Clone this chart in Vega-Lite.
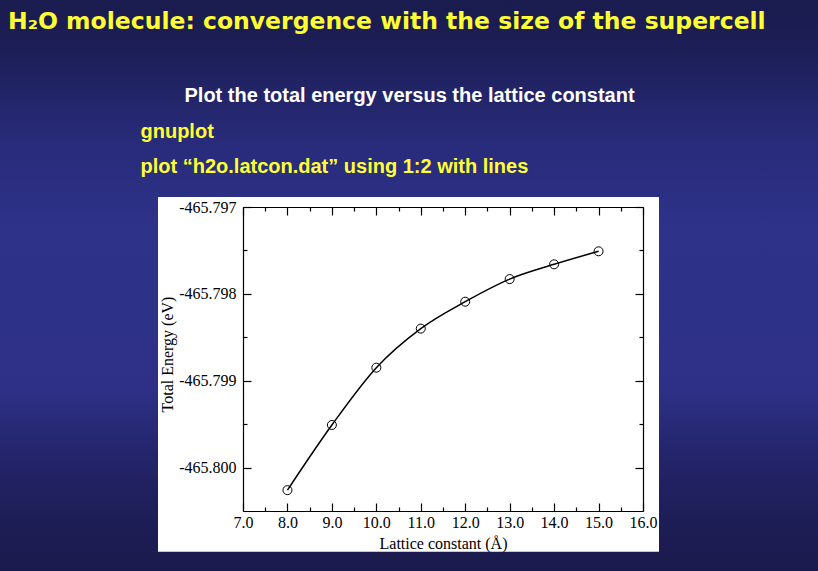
{
  "$schema": "https://vega.github.io/schema/vega-lite/v6.json",
  "width": 400,
  "height": 304,
  "autosize": {"type": "none"},
  "padding": {"left": 243, "top": 207, "right": 175, "bottom": 60},
  "background": "#1a1b4e",
  "title": {
    "text": "H₂O molecule: convergence with the size of the supercell",
    "anchor": "start",
    "frame": "group",
    "font": "DejaVu Sans",
    "fontSize": 23.5,
    "fontWeight": "bold",
    "color": "#ffff33",
    "baseline": "alphabetic",
    "offset": 0,
    "dx": -235,
    "dy": 53,
    "zindex": 2
  },
  "config": {
    "view": {"stroke": null},
    "axis": {
      "grid": false,
      "domainColor": "black",
      "domainWidth": 1.2,
      "tickColor": "black",
      "tickWidth": 1.2,
      "labelFont": "Liberation Serif",
      "labelFontSize": 16,
      "labelColor": "black",
      "labelFlush": false,
      "labelOverlap": false,
      "titleFont": "Liberation Serif",
      "titleFontSize": 16,
      "titleFontWeight": "normal",
      "titleColor": "black"
    }
  },
  "data": {
    "values": [
      {"lattice": 8, "energy": -465.80026},
      {"lattice": 9, "energy": -465.79951},
      {"lattice": 10, "energy": -465.79885},
      {"lattice": 11, "energy": -465.7984},
      {"lattice": 12, "energy": -465.79809},
      {"lattice": 13, "energy": -465.79783},
      {"lattice": 14, "energy": -465.79766},
      {"lattice": 15, "energy": -465.79751}
    ]
  },
  "layer": [
    {
      "data": {"values": [{}]},
      "mark": {
        "type": "rect",
        "fill": {
          "gradient": "linear",
          "x1": 0, "y1": 0, "x2": 0, "y2": 1,
          "stops": [
            {"offset": 0, "color": "#1a1b4e"},
            {"offset": 0.08, "color": "#1c1e55"},
            {"offset": 0.25, "color": "#282b7a"},
            {"offset": 0.4, "color": "#2e3289"},
            {"offset": 0.68, "color": "#2d3086"},
            {"offset": 0.8, "color": "#24246a"},
            {"offset": 0.9, "color": "#1e1e58"},
            {"offset": 1, "color": "#1a1a4c"}
          ]
        }
      },
      "encoding": {
        "x": {"datum": 1.53, "type": "quantitative", "scale": {"domain": [7, 16], "nice": false, "zero": false}, "axis": null},
        "x2": {"datum": 19.94},
        "y": {"datum": -465.79461, "type": "quantitative", "scale": {"domain": [-465.8005, -465.797], "nice": false, "zero": false}, "axis": null},
        "y2": {"datum": -465.8012}
      }
    },
    {
      "data": {"values": [{}]},
      "mark": {"type": "rect", "fill": "white"},
      "encoding": {
        "x": {"datum": 5.0875, "type": "quantitative", "scale": {"domain": [7, 16], "nice": false, "zero": false}, "axis": null},
        "x2": {"datum": 16.36},
        "y": {"datum": -465.796885, "type": "quantitative", "scale": {"domain": [-465.8005, -465.797], "nice": false, "zero": false}, "axis": null},
        "y2": {"datum": -465.80097}
      }
    },
    {
      "mark": {"type": "line", "interpolate": "monotone", "color": "black", "strokeWidth": 1.5},
      "encoding": {
        "x": {
          "field": "lattice", "type": "quantitative",
          "scale": {"domain": [7, 16], "nice": false, "zero": false},
          "axis": {
            "orient": "bottom",
            "zindex": 1,
            "values": [7, 7.5, 8, 8.5, 9, 9.5, 10, 10.5, 11, 11.5, 12, 12.5, 13, 13.5, 14, 14.5, 15, 15.5, 16],
            "labelExpr": "datum.value % 1 === 0 ? format(datum.value, '.1f') : ''",
            "tickSize": {"condition": {"test": "datum.value % 1 === 0", "value": -8}, "value": -4},
            "labelPadding": 11,
            "title": "Lattice constant (Å)",
            "titleX": 200,
            "titleY": 37,
            "titleAlign": "center",
            "titleBaseline": "alphabetic"
          }
        },
        "y": {
          "field": "energy", "type": "quantitative",
          "scale": {"domain": [-465.8005, -465.797], "nice": false, "zero": false},
          "axis": {
            "orient": "left",
            "zindex": 1,
            "values": [-465.797, -465.7975, -465.798, -465.7985, -465.799, -465.7995, -465.8],
            "labelExpr": "abs(datum.value*1000 - round(datum.value*1000)) < 0.01 ? '-' + format(abs(datum.value), '.3f') : ''",
            "tickSize": {"condition": {"test": "abs(datum.value*1000 - round(datum.value*1000)) < 0.01", "value": -8}, "value": -4},
            "labelPadding": 15,
            "title": "Total Energy (eV)",
            "titleAngle": -90,
            "titleX": -71,
            "titleY": 147,
            "titleAlign": "center",
            "titleBaseline": "alphabetic"
          }
        }
      }
    },
    {
      "mark": {"type": "point", "shape": "circle", "filled": false, "color": "black", "strokeWidth": 1, "size": 81, "opacity": 1},
      "encoding": {
        "x": {
          "field": "lattice", "type": "quantitative",
          "scale": {"domain": [7, 16], "nice": false, "zero": false},
          "axis": {
            "orient": "top",
            "zindex": 1,
            "values": [7, 7.5, 8, 8.5, 9, 9.5, 10, 10.5, 11, 11.5, 12, 12.5, 13, 13.5, 14, 14.5, 15, 15.5, 16],
            "labels": false,
            "tickSize": {"condition": {"test": "datum.value % 1 === 0", "value": -8}, "value": -4},
            "title": "Plot the total energy versus the lattice constant",
            "titleFont": "Liberation Sans",
            "titleFontSize": 20,
            "titleFontWeight": "bold",
            "titleColor": "white",
            "titleX": -59,
            "titleY": -106,
            "titleAlign": "left",
            "titleBaseline": "alphabetic"
          }
        },
        "y": {
          "field": "energy", "type": "quantitative",
          "scale": {"domain": [-465.8005, -465.797], "nice": false, "zero": false},
          "axis": {
            "orient": "right",
            "zindex": 1,
            "values": [-465.797, -465.7975, -465.798, -465.7985, -465.799, -465.7995, -465.8],
            "labels": false,
            "tickSize": {"condition": {"test": "abs(datum.value*1000 - round(datum.value*1000)) < 0.01", "value": -8}, "value": -4},
            "title": ["gnuplot", "plot “h2o.latcon.dat” using 1:2 with lines"],
            "titleFont": "Liberation Sans",
            "titleFontSize": 20,
            "titleFontWeight": "bold",
            "titleColor": "#ffff33",
            "titleAngle": 0,
            "titleX": -503,
            "titleY": -70,
            "titleAlign": "left",
            "titleBaseline": "alphabetic",
            "titleLineHeight": 35
          }
        }
      }
    }
  ],
  "resolve": {"axis": {"x": "independent", "y": "independent"}}
}
